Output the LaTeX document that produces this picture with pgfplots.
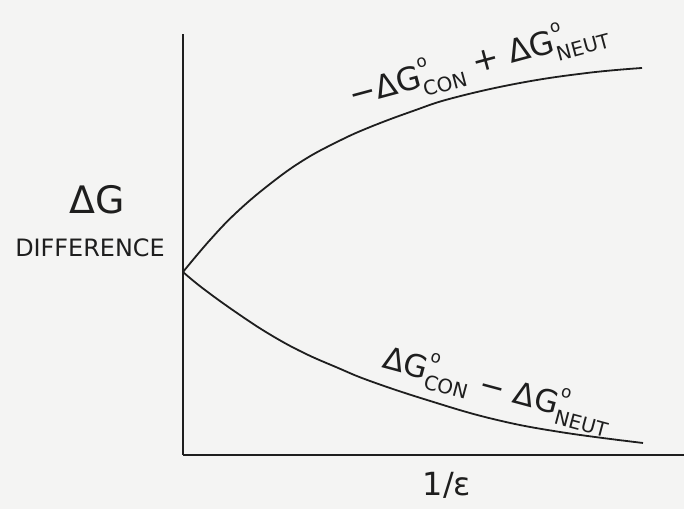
\documentclass[border=0pt]{standalone}
\usepackage{pgfplots}
\pgfplotsset{compat=1.18}
\usepackage{fontspec}
\setmainfont{DejaVu Sans}
\definecolor{paper}{HTML}{F4F4F3}
\definecolor{ink}{HTML}{1E1E1E}
% Delta G with a degree mark and a subscript
\newcommand\dg[1]{ΔG\rlap{\raisebox{1.1ex}{\fontsize{8.5}{8.5}\selectfont o}}\raisebox{-0.55ex}{\fontsize{10}{10}\selectfont #1}}
\begin{document}
\begin{tikzpicture}[x=0.5bp,y=0.5bp]
\fill[paper] (0,0) rectangle (684,509);
\useasboundingbox (0,0) rectangle (684,509);
\begin{axis}[
  at={(183,54)}, anchor=origin,
  scale only axis, width=250.5bp, height=210.5bp,
  xmin=0, xmax=501, ymin=0, ymax=421,
  axis lines=left,
  axis line style={-, line width=1.1bp, ink},
  xtick=\empty, ytick=\empty,
  clip=false,
]
% upper branch
\addplot[ink, line width=0.9bp, smooth, tension=0.7] coordinates {
  (0,183) (27,215) (54,243) (87,271) (120,294.5) (154,313) (186,327.5)
  (230,344) (270,357) (337,372) (404,382) (459,387)};
% lower branch
\addplot[ink, line width=0.9bp, smooth, tension=0.7] coordinates {
  (0,183) (20,166.5) (54,142) (87,120.5) (120,102.5) (154,87.5) (187,74)
  (244,55) (310,36) (377,23) (460,12)};
\end{axis}
\node[ink, font=\fontsize{19}{19}\selectfont] at (97,309) {ΔG};
\node[ink, font=\fontsize{12}{12}\selectfont] at (90,261) {DIFFERENCE};
\node[ink, font=\fontsize{16}{16}\selectfont, rotate=15] at (478,446) {−\dg{CON} + \dg{NEUT}};
\node[ink, font=\fontsize{15.5}{15.5}\selectfont, rotate=-15] at (497,120) {\dg{CON} − \dg{NEUT}};
\node[ink, font=\fontsize{16}{16}\selectfont] at (447,24) {1/ε};
\end{tikzpicture}
\end{document}
